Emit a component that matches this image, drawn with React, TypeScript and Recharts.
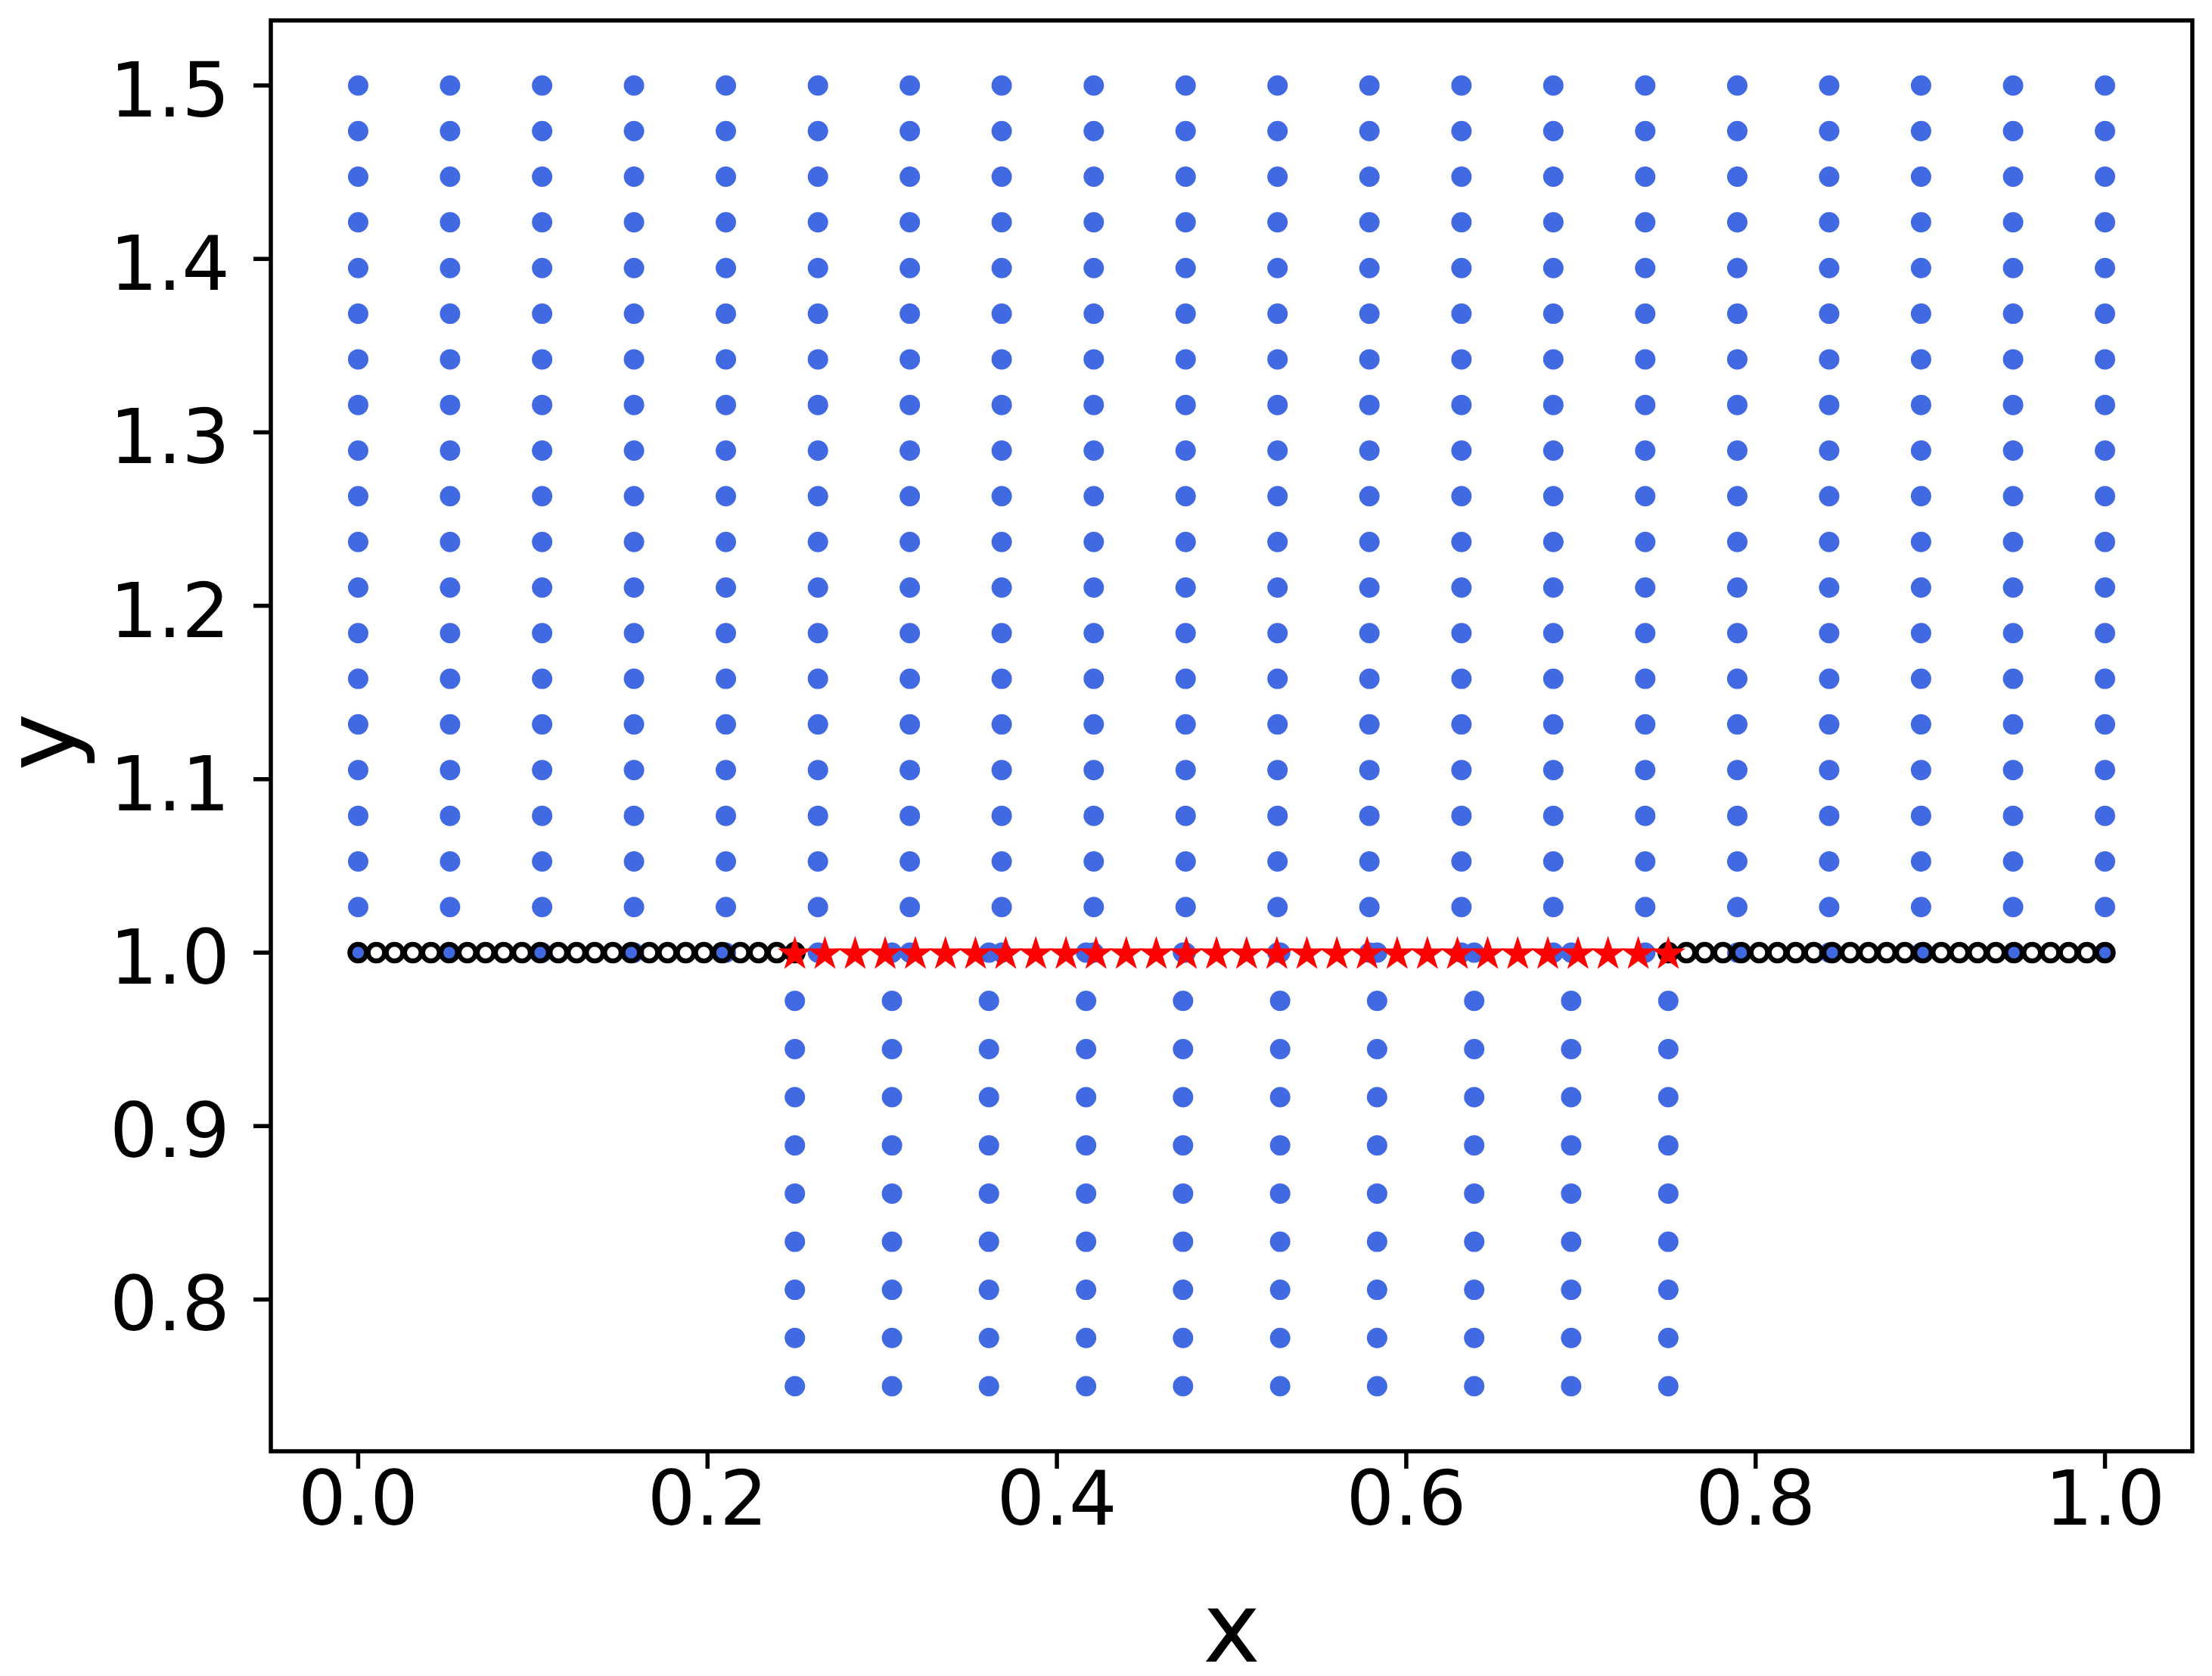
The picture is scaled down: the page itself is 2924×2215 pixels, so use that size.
import { ReferenceArea, Scatter, ScatterChart, XAxis, YAxis } from 'recharts';

// grid columns / rows
const upperX = [0, 0.0526, 0.1053, 0.1579, 0.2105, 0.2632, 0.3158, 0.3684, 0.4211, 0.4737, 0.5263, 0.5789, 0.6316, 0.6842, 0.7368, 0.7895, 0.8421, 0.8947, 0.9474, 1.0];
const upperY = [1.0, 1.0263, 1.0526, 1.0789, 1.1053, 1.1316, 1.1579, 1.1842, 1.2105, 1.2368, 1.2632, 1.2895, 1.3158, 1.3421, 1.3684, 1.3947, 1.4211, 1.4474, 1.4737, 1.5];
const lowerX = [0.25, 0.3056, 0.3611, 0.4167, 0.4722, 0.5278, 0.5833, 0.6389, 0.6944, 0.75];
const lowerY = [0.75, 0.7778, 0.8056, 0.8333, 0.8611, 0.8889, 0.9167, 0.9444, 0.9722, 1.0];

// points on the line y = 1
const edgeY = 1.0;
const leftRingX = [0, 0.0104, 0.0208, 0.0313, 0.0417, 0.0521, 0.0625, 0.0729, 0.0833, 0.0938, 0.1042, 0.1146, 0.125, 0.1354, 0.1458, 0.1563, 0.1667, 0.1771, 0.1875, 0.1979, 0.2083, 0.2188, 0.2292, 0.2396, 0.25];
const rightRingX = [0.75, 0.7604, 0.7708, 0.7813, 0.7917, 0.8021, 0.8125, 0.8229, 0.8333, 0.8438, 0.8542, 0.8646, 0.875, 0.8854, 0.8958, 0.9063, 0.9167, 0.9271, 0.9375, 0.9479, 0.9583, 0.9688, 0.9792, 0.9896, 1.0];
const starX = [0.25, 0.2672, 0.2845, 0.3017, 0.319, 0.3362, 0.3534, 0.3707, 0.3879, 0.4052, 0.4224, 0.4397, 0.4569, 0.4741, 0.4914, 0.5086, 0.5259, 0.5431, 0.5603, 0.5776, 0.5948, 0.6121, 0.6293, 0.6466, 0.6638, 0.681, 0.6983, 0.7155, 0.7328, 0.75];

const xTicks = [0, 0.2, 0.4, 0.6, 0.8, 1.0];
const yTicks = [0.8, 0.9, 1.0, 1.1, 1.2, 1.3, 1.4, 1.5];

const grid = (xs: number[], ys: number[]) => ys.flatMap((y) => xs.map((x) => ({ x, y })));
const upperPts = grid(upperX, upperY);
const lowerPts = grid(lowerX, lowerY);
const ringPts = [...leftRingX, ...rightRingX].map((x) => ({ x, y: edgeY }));
const starPts = starX.map((x) => ({ x, y: edgeY }));

const BLUE = '#4169e1';
const FONT = 'DejaVu Sans';

function starPath(cx: number, cy: number, R: number) {
  const r = R * 0.381966;
  let d = '';
  for (let i = 0; i < 10; i++) {
    const rad = i % 2 === 0 ? R : r;
    const a = -Math.PI / 2 + (i * Math.PI) / 5;
    d += (i ? 'L' : 'M') + (cx + rad * Math.cos(a)).toFixed(2) + ',' + (cy + rad * Math.sin(a)).toFixed(2);
  }
  return d + 'Z';
}

const Dot = (p: any) => <circle cx={p.cx} cy={p.cy} r={13.5} fill={BLUE} />;
const Ring = (p: any) => <circle cx={p.cx} cy={p.cy} r={11} fill="none" stroke="#000" strokeWidth={6.5} />;
const Star = (p: any) => <path d={starPath(p.cx, p.cy + 2, 24)} fill="#ff0000" />;

const YTick = (p: any) => (
  <text x={p.x} y={p.y} dy={41} textAnchor="end" fontSize={100} fontFamily={FONT} fill="#000">
    {Number(p.payload.value).toFixed(1)}
  </text>
);

const XTick = (p: any) => (
  <text x={p.x} y={p.y} dy={74} textAnchor="middle" fontSize={100} fontFamily={FONT} fill="#000">
    {Number(p.payload.value).toFixed(1)}
  </text>
);

const XLabel = (p: any) => {
  const vb = p.viewBox;
  return (
    <text x={vb.x + vb.width / 2} y={vb.y + 278} textAnchor="middle" fontSize={128} fontFamily={FONT} fill="#000">
      x
    </text>
  );
};

const YLabel = (p: any) => {
  const vb = p.viewBox;
  const x = vb.x + 90;
  const y = vb.y + vb.height / 2 + 8;
  return (
    <text x={x} y={y} transform={`rotate(-90, ${x}, ${y})`} textAnchor="middle" fontSize={128} fontFamily={FONT} fill="#000">
      y
    </text>
  );
};

export default function App() {
  return (
    <div style={{ width: 2916, height: 2207, background: '#fff' }}>
      <ScatterChart width={2916} height={2207} margin={{ top: 19, right: 26, bottom: 0, left: 0 }}>
        <XAxis
          type="number"
          dataKey="x"
          domain={[-0.05, 1.05]}
          allowDataOverflow
          ticks={xTicks}
          height={297}
          axisLine={false}
          tickSize={23}
          tickLine={{ stroke: '#000', strokeWidth: 5.5 }}
          tickMargin={0}
          tick={<XTick />}
          label={<XLabel />}
        />
        <YAxis
          type="number"
          dataKey="y"
          domain={[0.7125, 1.5375]}
          allowDataOverflow
          ticks={yTicks}
          width={350}
          axisLine={false}
          tickSize={23}
          tickLine={{ stroke: '#000', strokeWidth: 5.5 }}
          tickMargin={31}
          tick={<YTick />}
          label={<YLabel />}
        />
        <Scatter data={upperPts} shape={<Dot />} isAnimationActive={false} />
        <Scatter data={lowerPts} shape={<Dot />} isAnimationActive={false} />
        <Scatter data={ringPts} shape={<Ring />} isAnimationActive={false} />
        <Scatter data={starPts} shape={<Star />} isAnimationActive={false} />
        <ReferenceArea
          x1={-0.05}
          x2={1.05}
          y1={0.7125}
          y2={1.5375}
          ifOverflow="visible"
          fill="none"
          fillOpacity={0}
          stroke="#000"
          strokeWidth={5.5}
        />
      </ScatterChart>
    </div>
  );
}
